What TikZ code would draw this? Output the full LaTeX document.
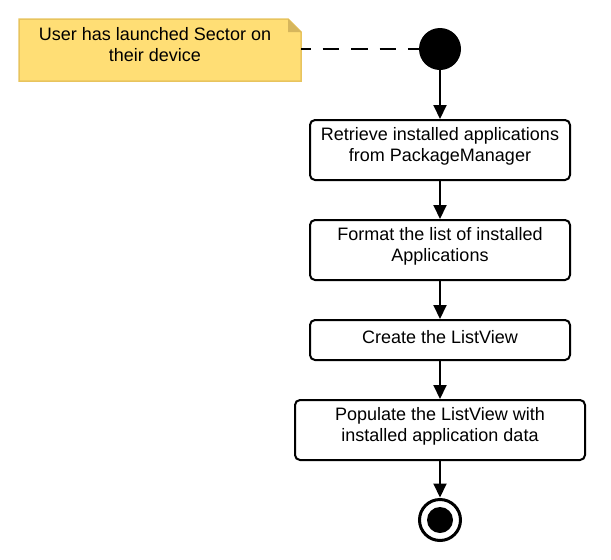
\documentclass[tikz,border=0pt]{standalone}
\usepackage{fontspec}
\setmainfont{Liberation Sans}
\usetikzlibrary{arrows.meta}
\definecolor{notefill}{HTML}{FFDE75}
\definecolor{noteline}{HTML}{E8C45E}
\definecolor{notefold}{HTML}{D6B65C}
\begin{document}
\begin{tikzpicture}[x=1pt,y=-1pt,
  actbox/.style={draw=black,line width=2pt,rounded corners=5pt,inner sep=0pt},
  flow/.style={line width=2pt,-{Triangle[length=14pt,width=13pt]}},
  txt/.style={align=center,font=\fontsize{18}{21.5}\selectfont,inner sep=0pt}]
\useasboundingbox (0,0) rectangle (611,560);
% note
\path[fill=notefill,draw=noteline,line width=1.5pt]
  (19,19) -- (288,19) -- (301,32) -- (301,81) -- (19,81) -- cycle;
\path[fill=notefold] (288,19) -- (288,32) -- (301,32) -- cycle;
\node[txt] (note) at (155,44.5) {User has launched Sector on\\their device};
\coordinate (noteR) at (301,49);
% start
\node[circle,fill=black,minimum size=42pt,inner sep=0pt] (start) at (440,49) {};
% boxes
\node[actbox,minimum width=260pt,minimum height=60pt] (b1) at (440,150) {};
\node[actbox,minimum width=260pt,minimum height=60pt] (b2) at (440,250) {};
\node[actbox,minimum width=260pt,minimum height=40pt] (b3) at (440,340) {};
\node[actbox,minimum width=290pt,minimum height=60pt] (b4) at (440,430) {};
\node[txt] (t1) at (440,146.5) {Retrieve installed applications\\from PackageManager};
\node[txt] (t2) at (440,246.5) {Format the list of installed\\Applications};
\node[txt] (t3) at (440,337.5) {Create the ListView};
\node[txt] (t4) at (440,426.5) {Populate the ListView with\\installed application data};
% end
\node[circle,draw=black,line width=3pt,minimum size=41pt,inner sep=0pt] (end) at (440,520) {};
\node[circle,fill=black,minimum size=26pt,inner sep=0pt] (endin) at (440,520) {};
% connectors
\draw[line width=2pt,dash pattern=on 16.7pt off 11.7pt,dash phase=6.7pt] (noteR) -- (start.west);
\draw[flow] (start) -- (b1);
\draw[flow] (b1) -- (b2);
\draw[flow] (b2) -- (b3);
\draw[flow] (b3) -- (b4);
\draw[flow,shorten >=0.5pt] (b4) -- (end);
\end{tikzpicture}
\end{document}
